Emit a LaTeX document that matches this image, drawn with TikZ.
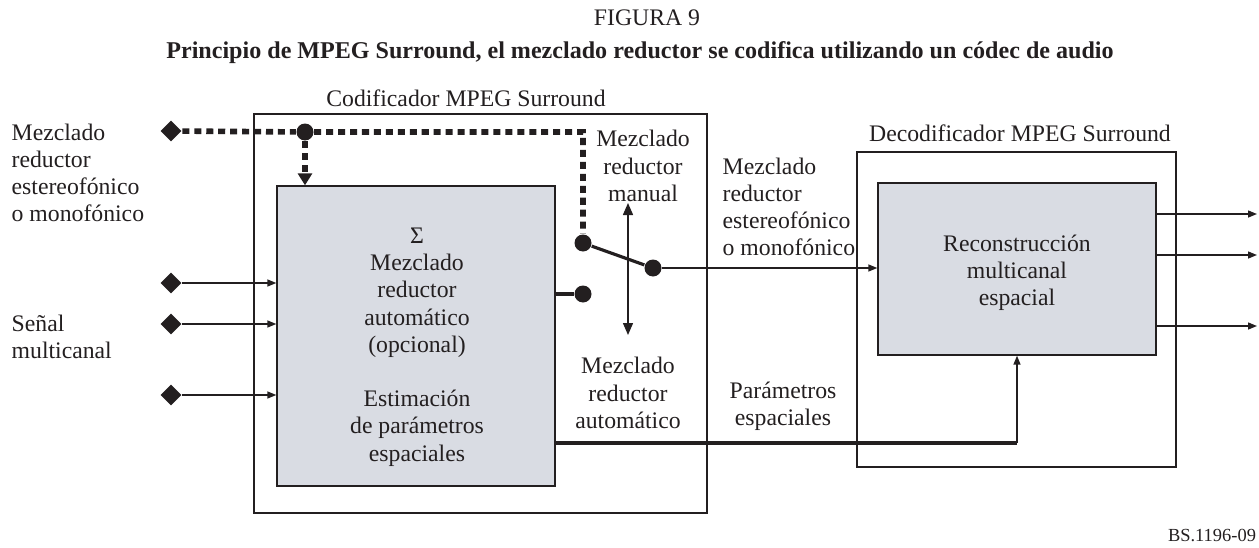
\documentclass[tikz,border=0pt]{standalone}
\usepackage{fontspec}
\setmainfont{Liberation Serif}
\usetikzlibrary{arrows.meta,shapes.geometric,positioning}

\definecolor{ink}{RGB}{35,31,32}
\definecolor{boxgrey}{RGB}{217,220,227}

\begin{document}
\begin{tikzpicture}[
       x=0.02cm, y=-0.02cm,
       draw=ink,
       line width=0.8pt,
       every node/.style={
         text=ink,
         font=\fontsize{13.5}{15.5}\selectfont
       },
       frame/.style={
         draw,
         inner sep=0pt
       },
       block/.style={
         draw,
         fill=boxgrey,
         inner sep=0pt
       },
       entry/.style={
         diamond,
         fill=ink,
         inner sep=0pt,
         minimum size=0.43cm
       },
       pin/.style={
         circle,
         fill=ink,
         inner sep=0pt,
         minimum size=0.34cm
       },
       lefttext/.style={anchor=west, align=left, inner sep=0pt},
       sig/.style={-{Triangle[length=0.18cm,width=0.14cm]}},
       bus/.style={line width=2.2pt},
       manual/.style={line width=3.2pt, dash pattern=on 4pt off 2.8pt}
     ]

       \useasboundingbox (0,0) rectangle (1259,548);

       % titles
       \node (fig) at (647,18) [font=\fontsize{13.5}{15}\selectfont]{FIGURA 9};
       \node (cap) at (640,53) [font=\fontsize{13.7}{15}\selectfont\bfseries]{Principio de MPEG Surround, el mezclado reductor se codifica utilizando un códec de audio};
       \node (ref) at (1212,535) [font=\fontsize{10.5}{12}\selectfont]{BS.1196-09};

       % encoder
       \node (enc) at (480.5,313.5) [frame,minimum width=9.06cm,minimum height=7.98cm]{};
       \node (enct) at (466,98) {Codificador MPEG Surround};
       \node (mix) at (416,336) [block,minimum width=5.56cm,minimum height=6cm]{};
       \node (mixt) at (417,347) [align=center]{Σ\\Mezclado\\reductor\\automático\\(opcional)\\[15.5pt]Estimación\\de parámetros\\espaciales};

       % decoder
       \node (dec) at (1016.5,309.5) [frame,minimum width=6.38cm,minimum height=6.3cm]{};
       \node (dect) at (1020,133) {Decodificador MPEG Surround};
       \node (rec) at (1017,269) [block,minimum width=5.56cm,minimum height=3.44cm]{};
       \node (rect) at (1017,273) [align=center]{Reconstrucción\\multicanal\\espacial};

       % inputs
       \node (dmx) at (171,131) [entry]{};
       \node (in1) at (171,283) [entry]{};
       \node (in2) at (171,324) [entry]{};
       \node (in3) at (171,395) [entry]{};
       \node (dmxt) at (11,173) [lefttext]{Mezclado\\reductor\\estereofónico\\o monofónico};
       \node (mct) at (11,337) [lefttext]{Señal\\multicanal};

       % switch
       \node (tap) at (305,132) [pin]{};
       \node (sw1) at (583,243) [pin]{};
       \node (sw2) at (583,294) [pin]{};
       \node (sw0) at (653,268) [pin]{};
       \coordinate (up) at (628,203);
       \coordinate (down) at (628,335);
       \node (mant) at (643,166) [align=center]{Mezclado\\reductor\\manual};
       \node (autt) at (628,393) [align=center]{Mezclado\\reductor\\automático};
       \node (dmt) at (722,207) [lefttext]{Mezclado\\reductor\\estereofónico\\o monofónico};
       \node (part) at (783,406) [align=center]{Parámetros\\espaciales};

       % outputs
       \coordinate (o1) at (1257,214);
       \coordinate (o2) at (1257,255);
       \coordinate (o3) at (1257,326);
       \coordinate (knee) at (1017,443);

       \draw[manual] (dmx) -- (tap) -- (tap -| sw1) -- (sw1);
       \draw[manual,-{Triangle[length=0.24cm,width=0.28cm]}] (tap) -- (tap |- mix.north);

       \draw[sig] (in1) -- (in1 -| mix.west);
       \draw[sig] (in2) -- (in2 -| mix.west);
       \draw[sig] (in3) -- (in3 -| mix.west);

       \draw[bus] (mix.east |- sw2) -- (sw2);
       \draw[line width=1.8pt] (sw1) -- (sw0);
       \draw[{Triangle[length=0.24cm,width=0.2cm]}-{Triangle[length=0.24cm,width=0.2cm]}] (up) -- (down);
       \draw[sig] (sw0) -- (sw0 -| rec.west);

       \draw[bus] (mix.east |- knee) -- (knee);
       \draw[sig] (knee) -- (rec.south);

       \draw[sig] (rec.east |- o1) -- (o1);
       \draw[sig] (rec.east |- o2) -- (o2);
       \draw[sig] (rec.east |- o3) -- (o3);

\end{tikzpicture}
\end{document}
